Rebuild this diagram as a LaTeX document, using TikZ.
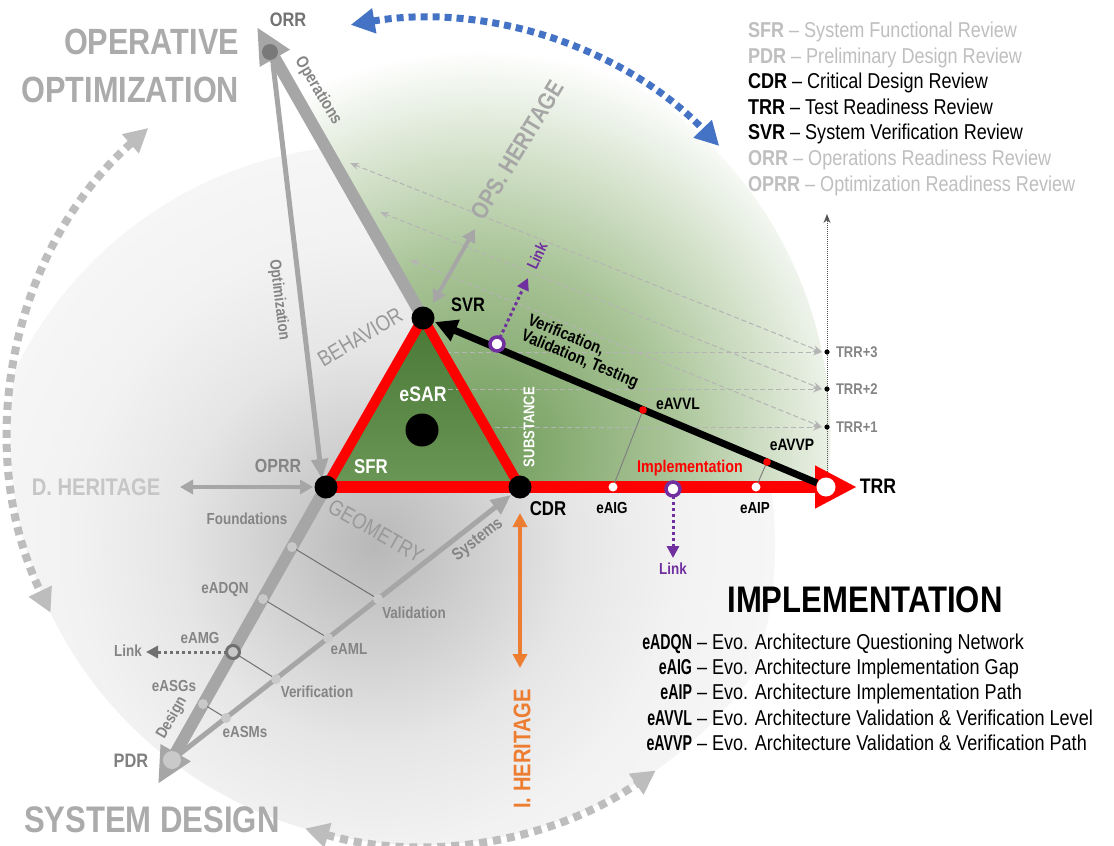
\documentclass[tikz,border=0pt]{standalone}
\usepackage{fontspec}
\setmainfont{Liberation Sans}[FakeStretch=0.84]
\newfontfamily\narrowbold{Liberation Sans Bold}[FakeStretch=0.66]
\usetikzlibrary{arrows.meta,calc}
\definecolor{bgA}{HTML}{B8B8B8}
\definecolor{bgB}{HTML}{CECECE}
\definecolor{bgC}{HTML}{E6E6E6}
\definecolor{bgD}{HTML}{F2F2F2}
\definecolor{bgE}{HTML}{F6F6F6}
\definecolor{grA}{HTML}{6F9B59}
\definecolor{grB}{HTML}{A9C497}
\definecolor{triT}{HTML}{4A7936}
\definecolor{triB}{HTML}{6A9656}
\definecolor{lineg}{HTML}{A6A6A6}
\definecolor{txtg}{HTML}{858585}
\definecolor{bigg}{HTML}{ABABAB}
\definecolor{lgray}{HTML}{BFBFBF}
\definecolor{dhg}{HTML}{C6C6C6}
\definecolor{dotg}{HTML}{BDBDBD}
\definecolor{dashc}{HTML}{B4B4B4}
\definecolor{redc}{HTML}{FF0000}
\definecolor{purp}{HTML}{7030A0}
\definecolor{orng}{HTML}{ED7D31}
\definecolor{bluec}{HTML}{4472C4}
\definecolor{rung}{HTML}{707070}
\definecolor{dotc}{HTML}{C9C9C9}
\definecolor{axisc}{HTML}{555555}
\pgfdeclareradialshading{bgshade}{\pgfpoint{0bp}{0bp}}{color(0bp)=(bgA); color(6bp)=(bgB); color(12.5bp)=(bgC); color(19bp)=(bgD); color(25bp)=(bgE); color(50bp)=(bgE)}
\pgfdeclareradialshading{grshade}{\pgfpoint{0bp}{0bp}}{color(0bp)=(grA); color(12bp)=(grB); color(25bp)=(white); color(50bp)=(white)}
\newcommand{\myfs}[1]{\fontsize{#1}{#1}\selectfont}
\tikzset{
  lab/.style={font=\bfseries\myfs{16}},
  glab/.style={lab, text=txtg},
  blab/.style={lab, text=black},
  dashl/.style={draw=dashc, line width=1pt, dash pattern=on 5pt off 3pt},
  stip/.style={-{Stealth[length=9pt,width=7pt]}},
  btip/.style={{Stealth[length=9pt,width=7pt]}-{Stealth[length=9pt,width=7pt]}},
  bigdots/.style={draw=dotg, line width=8pt, dash pattern=on 8pt off 6pt},
  bluedots/.style={draw=bluec, line width=7pt, dash pattern=on 7pt off 5pt},
  bignode/.style={circle, fill=black, minimum size=23pt},
  legk/.style={font=\myfs{21.5}, anchor=base west},
  impk/.style={font=\narrowbold\myfs{21.5}, anchor=base east},
  impd/.style={font=\myfs{21.5}, anchor=base west},
}
\begin{document}
\begin{tikzpicture}[x=1pt,y=-1pt, every node/.style={inner sep=0pt, outer sep=0pt}]
\useasboundingbox (0,0) rectangle (1114,846);
\fill[white] (0,0) rectangle (1114,846);

\coordinate (C) at (420,435);
\coordinate (ORR) at (270,52);
\coordinate (SVR) at (423,318);
\coordinate (OPRR) at (326,487);
\coordinate (CDR) at (520,487);
\coordinate (TRR) at (826,487);
\coordinate (PDR) at (172,760);
\coordinate (T3) at (827,352);
\coordinate (T2) at (827,389);
\coordinate (T1) at (827,427);

% background disc
\begin{scope}
  \clip (C) circle[radius=410];
  \shade[shading=bgshade] (375,545) circle[radius=400];
\end{scope}
% green sector
\begin{scope}
  \clip (ORR) -- (SVR) -- (CDR) -- (827,487) arc[start angle=7.3, end angle=-111.4, radius=410] -- cycle;
  \shade[shading=grshade] (480,450) circle[radius=400];
\end{scope}

% big dotted circular arrows
\draw[bigdots, {Triangle[length=24pt,width=24pt]}-{Triangle[length=24pt,width=24pt]}]
  ($(C)+(-131.5:410)$) arc[start angle=-131.5, end angle=-205.7, radius=410];
\draw[bigdots, {Triangle[length=24pt,width=24pt]}-{Triangle[length=24pt,width=24pt]}]
  ($(C)+(106.3:410)$) arc[start angle=106.3, end angle=54.9, radius=410];
\draw[bluedots, {Triangle[length=24pt,width=24pt]}-{Triangle[length=24pt,width=24pt]}]
  ($(C)+(-99.6:416)$) arc[start angle=-99.6, end angle=-44, radius=416];

% diagonal dashed lines
\draw[dashl, btip] (350,163) -- ($(T3)+(-5,0)$);
\draw[dashl, btip] (380,212) -- ($(T2)+(-5,0)$);
\draw[dashl, btip] (410,260) -- ($(T1)+(-5,0)$);

% vertical axis
\draw[draw=axisc, line width=1pt, densely dotted, -{Stealth[length=9pt,width=7pt]}] (827,482) -- (827,214);
\foreach \t in {T1,T2,T3} \fill[black] (\t) circle[radius=2.6];

% gray structural arrows
\draw[lineg, line width=12pt, -{Triangle[length=36pt,width=32pt]}] (SVR) -- (257,27);
\draw[lineg, line width=5pt, -{Triangle[length=20pt,width=16pt]}] (273,64) -- (322,479);
\draw[lineg, line width=12pt, -{Triangle[length=36pt,width=32pt]}] (OPRR) -- (158,784);
\draw[lineg, line width=5pt, -{Triangle[length=20pt,width=17pt]}] (PDR) -- (511,495);
\draw[lineg, line width=4pt, {Triangle[length=13pt,width=14pt]}-{Triangle[length=13pt,width=14pt]}] (180,487) -- (313,487);
\draw[lineg, line width=4pt, {Triangle[length=13pt,width=14pt]}-{Triangle[length=13pt,width=14pt]}] (433,303) -- (475,229);

% ladder
\draw[rung, line width=1pt] (292,547) -- (378,599);
\draw[rung, line width=1pt] (263,599) -- (328,638);
\draw[rung, line width=1pt] (233,652) -- (276,679);
\draw[rung, line width=1pt] (203,704) -- (226,718);
\foreach \p in {(292,547),(263,599),(203,704),(378,599),(328,638),(276,679),(226,718)}
  \fill[dotc] \p circle[radius=5];
\node[circle, draw=rung, line width=3pt, fill=dotc, minimum size=13pt] (eAMG) at (233,652) {};
\coordinate (linkL) at (146,652);
\draw[rung, line width=3pt, dash pattern=on 3pt off 3pt, -{Triangle[length=12pt,width=12pt]}] (eAMG) -- (linkL);
\fill[dotc] (PDR) circle[radius=9];
\fill[gray!95!black] (ORR) circle[radius=8];

% orange I. heritage arrow
\draw[orng, line width=4pt, {Triangle[length=14pt,width=14pt]}-{Triangle[length=14pt,width=14pt]}] (520,513) -- (520,668);

% triangle fill
\shade[top color=triT, bottom color=triB] (SVR) -- (OPRR) -- (CDR) -- cycle;

% horizontal dashed lines
\draw[dashl, stip] (446,352) -- ($(T3)+(-5,0)$);
\draw[dashl, stip] (448,389) -- ($(T2)+(-5,0)$);
\draw[dashl, stip] (487,427) -- ($(T1)+(-5,0)$);

% red implementation line and triangle
\draw[redc, line width=12pt, -{Triangle[length=42pt,width=40pt]}] (OPRR) -- (857,487);
\draw[redc, line width=10pt, line join=round] (SVR) -- (OPRR) -- (CDR) -- cycle;

% black VVT arrow
\draw[black, line width=7pt, -{Triangle[length=22pt,width=22pt]}] (817,483) -- (435,322);

% eAVVL / eAVVP connectors
\coordinate (avvl) at (643,410);
\coordinate (avvp) at (767,462);
\coordinate (aig) at (613,487);
\coordinate (aip) at (756,487);
\draw[gray, line width=1pt] (avvl) -- (aig);
\draw[gray, line width=1pt] (avvp) -- (aip);
\fill[redc] (avvl) circle[radius=3.8];
\fill[redc] (avvp) circle[radius=3.8];
\fill[white] (aig) circle[radius=4.5];
\fill[white] (aip) circle[radius=4.5];
\fill[white] (TRR) circle[radius=9.5];

% main nodes
\node[bignode] (nSVR) at (SVR) {};
\node[bignode] (nOPRR) at (OPRR) {};
\node[bignode] (nCDR) at (CDR) {};
\fill[black] (422,430) circle[radius=16.5];

% purple links
\node[circle, draw=purp, fill=white, line width=3.5pt, minimum size=14pt] (pl1) at (497,344) {};
\node[circle, draw=purp, fill=white, line width=3.5pt, minimum size=14pt] (pl2) at (673,489) {};
\coordinate (pl1e) at (528,278);
\coordinate (pl2e) at (673,558);
\draw[purp, line width=3pt, dash pattern=on 3pt off 3pt, -{Triangle[length=12pt,width=12pt]}] (pl1) -- (pl1e);
\draw[purp, line width=3pt, dash pattern=on 3pt off 3pt, -{Triangle[length=12pt,width=12pt]}] (pl2) -- (pl2e);

% ---------- texts ----------
\node[font=\bfseries\myfs{36.5}, text=bigg, anchor=east] (opt1) at (239,42) {OPERATIVE};
\node[font=\bfseries\myfs{36.5}, text=bigg, anchor=east] (opt2) at (239,90) {OPTIMIZATION};
\node[font=\bfseries\myfs{37}, text=bigg, anchor=west] (sysd) at (24,820) {SYSTEM DESIGN};
\node[font=\bfseries\myfs{24}, text=dhg] (dher) at (96,487) {D. HERITAGE};
\node[font=\bfseries\myfs{24}, text=orng, rotate=90] (iher) at (522,749) {I. HERITAGE};
\node[font=\bfseries\myfs{24}, text=lineg, rotate=58.7] (oher) at (517,150) {OPS. HERITAGE};
\node[font=\myfs{22}, text=gray!80, rotate=30.5] (beh) at (360,337) {BEHAVIOR};
\node[font=\myfs{22}, text=gray!80, rotate=-29.7] (geo) at (376,531) {GEOMETRY};
\node[font=\bfseries\myfs{15.5}, text=white, rotate=90] (subs) at (529,427) {SUBSTANCE};
\node[font=\bfseries\myfs{21}, text=white] (esar) at (423,394) {eSAR};
\node[font=\bfseries\myfs{20}, text=white] (sfr) at (371,467) {SFR};

\node[font=\bfseries\myfs{19.5}, text=black] (lSVR) at (468,305) {SVR};
\node[font=\bfseries\myfs{20}, text=black] (lCDR) at (548,509) {CDR};
\node[font=\bfseries\myfs{21}, text=black] (lTRR) at (878,486) {TRR};
\node[font=\bfseries\myfs{19.5}, text=gray!110] (lORR) at (288,20) {ORR};
\node[font=\bfseries\myfs{19.5}, text=gray] (lPDR) at (131,761) {PDR};
\node[font=\bfseries\myfs{19}, text=txtg] (lOPRR) at (278,466) {OPRR};

\node[glab, font=\bfseries\myfs{17}, rotate=-59] (ops) at (318,91) {Operations};
\node[glab, rotate=-83] (optz) at (279,300) {Optimization};
\node[glab, rotate=60] (des) at (172,718) {Design};
\node[glab, font=\bfseries\myfs{17}, rotate=38] (sysl) at (478,540) {Systems};
\node[glab] at (247,519) {Foundations};
\node[glab] at (225,589) {eADQN};
\node[glab] at (200,638) {eAMG};
\node[glab] at (128,651) {Link};
\node[glab] at (174,686) {eASGs};
\node[glab] at (245,732) {eASMs};
\node[glab] at (317,692) {Verification};
\node[glab] at (349,649) {eAML};
\node[glab] at (414,613) {Validation};

\node[blab, font=\bfseries\myfs{17}, rotate=-22.7, align=left] (vvt) at (583,352)
  {\fontsize{17}{20}\selectfont Verification,\\Validation, Testing};
\node[blab, font=\bfseries\myfs{16.5}] at (678,404) {eAVVL};
\node[blab, font=\bfseries\myfs{16.5}] at (792,445) {eAVVP};
\node[blab] at (612,508) {eAIG};
\node[blab] at (755,508) {eAIP};
\node[lab, font=\bfseries\myfs{17}, text=redc] at (690,468) {Implementation};
\node[lab, text=purp] at (673,569) {Link};
\node[lab, text=purp, rotate=65] at (537,256) {Link};

\node[glab, font=\bfseries\myfs{15.5}, anchor=west] at (836,352) {TRR+3};
\node[glab, font=\bfseries\myfs{15.5}, anchor=west] at (836,389) {TRR+2};
\node[glab, font=\bfseries\myfs{15.5}, anchor=west] at (836,427) {TRR+1};

% legend top right
\node[legk, text=lgray] at (748,37) {\textbf{SFR} -- System Functional Review};
\node[legk, text=lgray] at (748,63) {\textbf{PDR} -- Preliminary Design Review};
\node[legk, text=black] at (748,88) {\textbf{CDR} -- Critical Design Review};
\node[legk, text=black] at (748,114) {\textbf{TRR} -- Test Readiness Review};
\node[legk, text=black] at (748,139) {\textbf{SVR} -- System Verification Review};
\node[legk, text=lgray] at (748,165) {\textbf{ORR} -- Operations Readiness Review};
\node[legk, text=lgray] at (748,191) {\textbf{OPRR} -- Optimization Readiness Review};

% implementation legend
\node[font=\bfseries\myfs{37}, anchor=base] (impl) at (865,612) {IMPLEMENTATION};
\node[impk] at (692,649) {eADQN};
\node[impd] at (697,649) {-- Evo. Architecture Questioning Network};
\node[impk] at (692,674) {eAIG};
\node[impd] at (697,674) {-- Evo. Architecture Implementation Gap};
\node[impk] at (692,699) {eAIP};
\node[impd] at (697,699) {-- Evo. Architecture Implementation Path};
\node[impk] at (692,725) {eAVVL};
\node[impd] at (697,725) {-- Evo. Architecture Validation \& Verification Level};
\node[impk] at (692,750) {eAVVP};
\node[impd] at (697,750) {-- Evo. Architecture Validation \& Verification Path};
\end{tikzpicture}
\end{document}
